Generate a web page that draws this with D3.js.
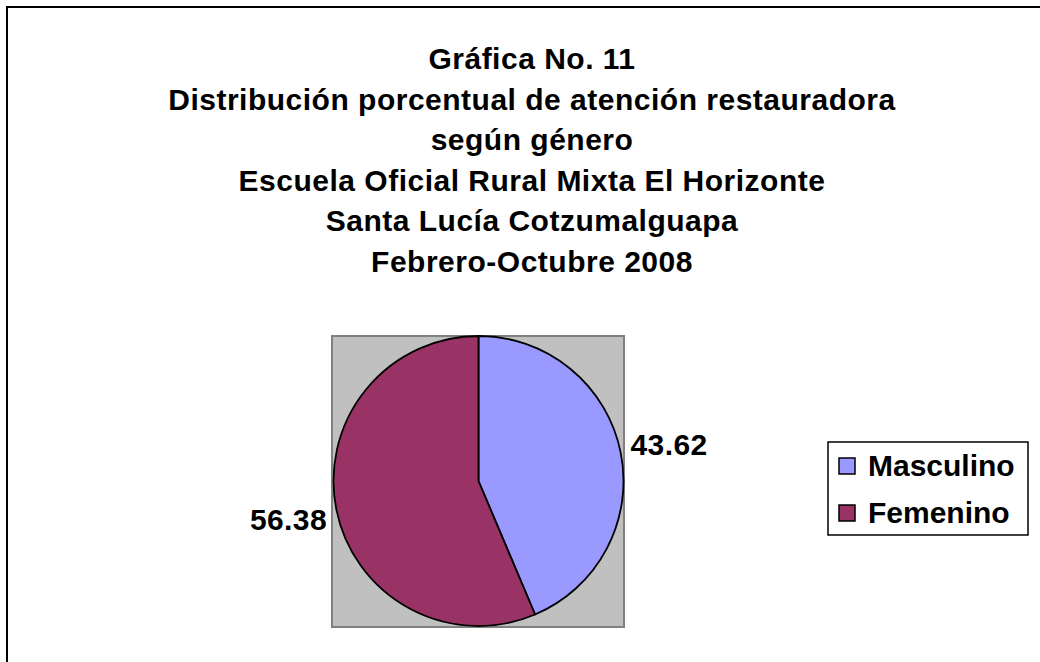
<!DOCTYPE html>
<html>
<head>
<meta charset="utf-8">
<script src="https://cdn.jsdelivr.net/npm/d3@7"></script>
<style>
html,body{margin:0;padding:0;background:#fff;}
svg{display:block;}
text{font-family:"Liberation Sans",Arial,sans-serif;font-weight:bold;fill:#000;}
</style>
</head>
<body>
<svg id="chart" width="1040" height="662"></svg>
<script>
const titleLines = [
  "Gráfica No. 11",
  "Distribución porcentual de atención restauradora",
  "según género",
  "Escuela Oficial Rural Mixta El Horizonte",
  "Santa Lucía Cotzumalguapa",
  "Febrero-Octubre 2008"
];
const categories = ["Masculino", "Femenino"];
const values = [43.62, 56.38];
const colors = ["#9999FF", "#993366"];

const svg = d3.select("#chart");

// outer chart border
svg.append("rect").attr("x", 7).attr("y", 7).attr("width", 1100).attr("height", 1100)
  .attr("fill", "#fff").attr("stroke", "#000").attr("stroke-width", 2);

// title
const fs = 30;
svg.append("g").selectAll("text").data(titleLines).join("text")
  .attr("x", 532).attr("y", (d, i) => 69 + i * 40.5)
  .attr("text-anchor", "middle").style("font-size", fs + "px")
  .style("letter-spacing", "0.5px")
  .text(d => d);

// plot area
const plot = {x: 332, y: 336, w: 292, h: 291};
svg.append("rect").attr("x", plot.x).attr("y", plot.y).attr("width", plot.w).attr("height", plot.h)
  .attr("fill", "#C0C0C0").attr("stroke", "#808080").attr("stroke-width", 2);

const cx = 478.5, cy = 481, r = 145;
const pie = d3.pie().sort(null).value(d => d.v);
const arcs = pie(categories.map((c, i) => ({c, v: values[i], col: colors[i]})));
const arc = d3.arc().innerRadius(0).outerRadius(r);
const g = svg.append("g").attr("transform", `translate(${cx},${cy})`);
g.selectAll("path").data(arcs).join("path")
  .attr("d", arc).attr("fill", d => d.data.col)
  .attr("stroke", "#000").attr("stroke-width", 1.8).attr("stroke-linejoin", "round");

// data labels
g.selectAll("text.lbl").data(arcs).join("text").attr("class", "lbl")
  .attr("x", (d, i) => i === 0 ? 630.5 - cx : 327 - cx)
  .attr("y", (d, i) => i === 0 ? 455 - cy : 530 - cy)
  .attr("text-anchor", (d, i) => i === 0 ? "start" : "end")
  .style("font-size", fs + "px")
  .style("letter-spacing", "0.4px")
  .text(d => d.data.v.toFixed(2));

// legend
const lg = svg.append("g");
lg.append("rect").attr("x", 828).attr("y", 442).attr("width", 200).attr("height", 93)
  .attr("fill", "#fff").attr("stroke", "#000").attr("stroke-width", 1.5);
const items = lg.selectAll("g.item").data(categories).join("g").attr("class", "item")
  .attr("transform", (d, i) => `translate(839,${458 + i * 47})`);
items.append("rect").attr("width", 16).attr("height", 16)
  .attr("fill", (d, i) => colors[i]).attr("stroke", "#000").attr("stroke-width", 1.5);
items.append("text").attr("x", 29).attr("y", 18).style("font-size", fs + "px").text(d => d);
</script>
</body>
</html>
